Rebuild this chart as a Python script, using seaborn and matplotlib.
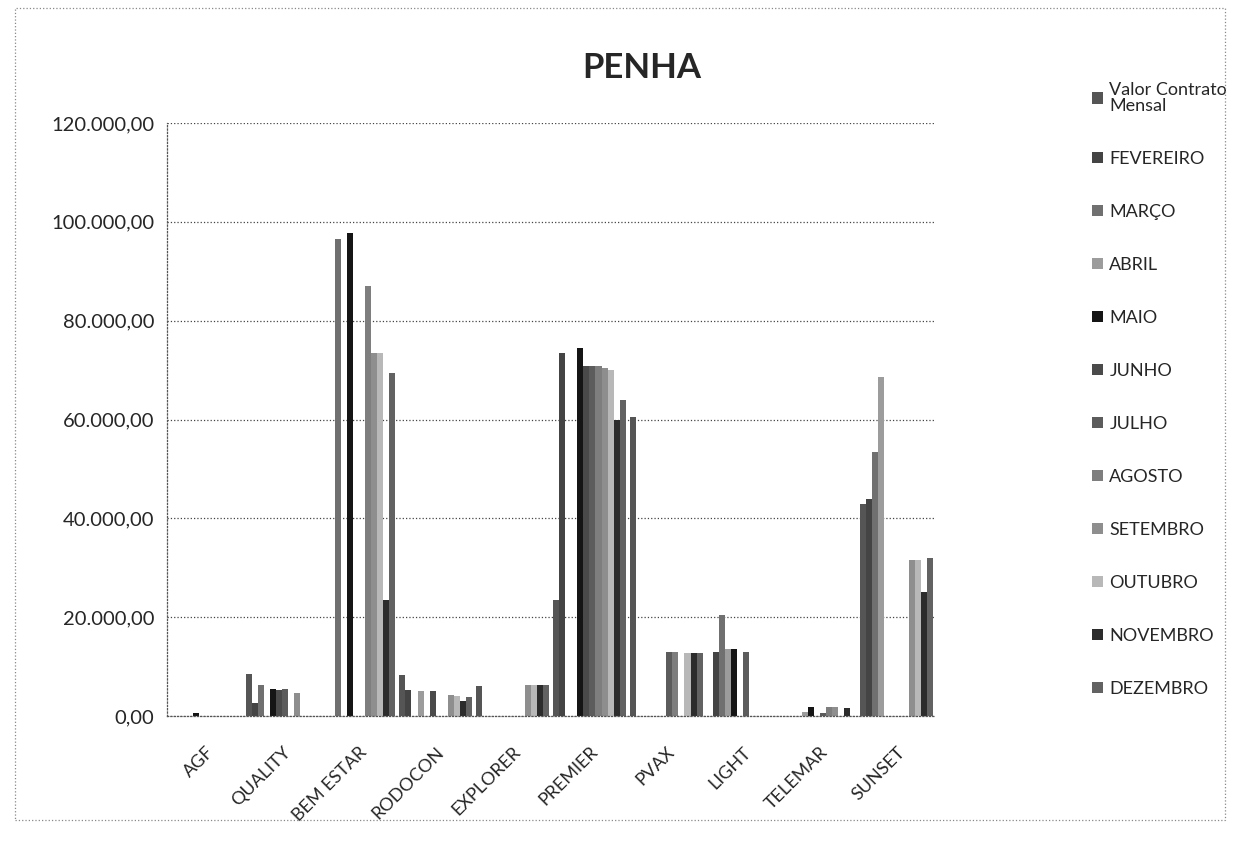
import numpy as np
import pandas as pd
import matplotlib
matplotlib.use("Agg")
import matplotlib.pyplot as plt
from matplotlib.patches import Rectangle
from matplotlib.ticker import FuncFormatter
from matplotlib.transforms import ScaledTranslation
import seaborn as sns

categories = ["AGF", "QUALITY", "BEM ESTAR", "RODOCON", "EXPLORER",
              "PREMIER", "PVAX", "LIGHT", "TELEMAR", "SUNSET"]

series_names = ["Valor Contrato\nMensal", "FEVEREIRO", "MARÇO", "ABRIL", "MAIO",
                "JUNHO", "JULHO", "AGOSTO", "SETEMBRO", "OUTUBRO",
                "NOVEMBRO", "DEZEMBRO"]

valor_contrato = [0, 8500, 0, 8200, 6000, 23500, 60500, 0, 0, 43000]
fevereiro      = [0, 2600, 0, 5300, 0, 73500, 0, 13000, 0, 44000]
marco          = [0, 6300, 96500, 0, 0, 0, 0, 20500, 0, 53500]
abril          = [0, 0, 0, 5100, 0, 0, 0, 13500, 900, 68500]
maio           = [600, 5500, 97800, 0, 0, 74500, 0, 13500, 1800, 0]
junho          = [0, 5300, 0, 5100, 0, 70800, 0, 0, 0, 0]
julho          = [0, 5500, 0, 0, 0, 70800, 13000, 13000, 700, 0]
agosto         = [0, 0, 87000, 0, 0, 70800, 13000, 0, 1900, 0]
setembro       = [0, 4600, 73500, 4300, 6200, 70500, 0, 0, 1900, 31500]
outubro        = [0, 0, 73500, 4000, 6200, 70000, 12800, 0, 0, 31500]
novembro       = [0, 0, 23500, 3000, 6200, 60000, 12800, 0, 1700, 25000]
dezembro       = [0, 0, 69500, 3900, 6200, 64000, 12800, 0, 0, 32000]

series_values = [valor_contrato, fevereiro, marco, abril, maio, junho, julho,
                 agosto, setembro, outubro, novembro, dezembro]

colors = ["#555555", "#444444", "#707070", "#9c9c9c", "#151515", "#4a4a4a",
          "#5c5c5c", "#7e7e7e", "#8e8e8e", "#b8b8b8", "#2c2c2c", "#626262"]

y_ticks = [0, 20000, 40000, 60000, 80000, 100000, 120000]

rows = []
for name, vals in zip(series_names, series_values):
    for c, v in zip(categories, vals):
        rows.append({"cat": c, "series": name, "val": v})
df = pd.DataFrame(rows)

sns.set_style("white")
plt.rcParams["font.family"] = ["Lato", "DejaVu Sans"]

W, H = 1234, 859
fig = plt.figure(figsize=(W / 100, H / 100), dpi=100)
ax = fig.add_axes([167 / W, 1 - 716 / H, (935 - 167) / W, (716 - 123) / H])

sns.barplot(data=df, x="cat", y="val", hue="series", order=categories,
            hue_order=series_names, palette=colors, width=0.95, saturation=1,
            errorbar=None, ax=ax, edgecolor="none", linewidth=0)

ax.set_xlim(-0.5, len(categories) - 0.5)
ax.set_ylim(0, 120000)
ax.set_yticks(y_ticks)
ax.yaxis.set_major_formatter(FuncFormatter(
    lambda v, p: f"{v:,.2f}".replace(",", "X").replace(".", ",").replace("X", ".")))
ax.set_xlabel("")
ax.set_ylabel("")

ax.set_xticks(range(len(categories)))
ax.set_xticklabels(categories, rotation=45, ha="right", rotation_mode="anchor",
                   fontsize=13)
offset = ScaledTranslation(12 / 100, 0, fig.dpi_scale_trans)
for lbl in ax.get_xticklabels():
    lbl.set_transform(lbl.get_transform() + offset)
ax.set_xticks(np.arange(-0.5, len(categories), 1), minor=True)
ax.tick_params(axis="x", which="major", length=0, pad=20)
ax.tick_params(axis="x", which="minor", length=6, color="#777777", width=0.8)
ax.tick_params(axis="y", which="major", length=5, color="#777777", width=0.8,
               labelsize=14.5, pad=4)

ax.yaxis.grid(True, linestyle=":", color="#444444", linewidth=0.9)
ax.set_axisbelow(True)
for s in ["top", "right"]:
    ax.spines[s].set_visible(False)
for s in ["left", "bottom"]:
    ax.spines[s].set_linestyle(":")
    ax.spines[s].set_color("#555555")
    ax.spines[s].set_linewidth(0.9)

handles, labels = ax.get_legend_handles_labels()
leg = ax.legend(handles, labels, loc="upper left",
                bbox_to_anchor=(1076 / W, 1 - 66 / H), bbox_transform=fig.transFigure,
                frameon=False, fontsize=13, labelspacing=2.05, handlelength=0.6,
                handleheight=0.6, handletextpad=0.35)
for t in leg.get_texts():
    t.set_linespacing(0.95)

fig.text(642 / W, 1 - 68 / H, "PENHA", ha="center", va="center",
         fontsize=25, fontweight="bold")

fig.patches.append(Rectangle((15 / W, 1 - 820 / H), (1225 - 15) / W, (820 - 8) / H,
                             transform=fig.transFigure, fill=False, linestyle=":",
                             edgecolor="#888888", linewidth=0.9))

fig.savefig("out.png", dpi=100)
